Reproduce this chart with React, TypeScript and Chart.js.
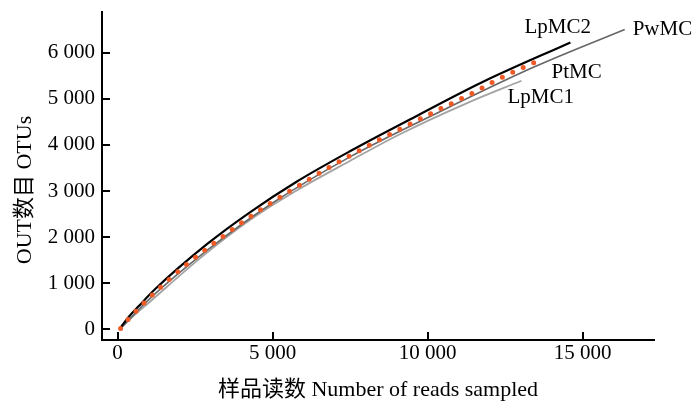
import React, { useEffect, useRef } from "react";
import { Chart, registerables } from "chart.js";

Chart.register(...registerables);

// ---- data ----
const lpmc2X = [80, 400, 670, 1208, 2894, 4270, 5775, 7493, 9600, 11789, 14605];
const lpmc2Y = [26, 300, 494, 870, 1852, 2538, 3201, 3860, 4610, 5367, 6220];

const pwmcX = [100, 1000, 3000, 5000, 7500, 10177, 13445, 16355];
const pwmcY = [20, 640, 1770, 2740, 3740, 4646, 5692, 6502];

const ptmcX = [100, 380, 650, 973, 1541, 2229, 2884, 3474, 4034, 4634, 5550, 6568, 7557, 8598, 9500, 10177, 10886, 11531, 12079, 12639, 13445];
const ptmcY = [20, 243, 429, 654, 1007, 1412, 1750, 2053, 2328, 2603, 2993, 3411, 3786, 4163, 4473, 4704, 4934, 5150, 5354, 5540, 5787];

const lpmc1X = [100, 400, 1047, 2659, 4270, 5775, 7493, 9104, 11253, 13026];
const lpmc1Y = [20, 220, 600, 1540, 2370, 3010, 3650, 4230, 4900, 5389];

const seriesNames = ["LpMC2", "PwMC", "PtMC", "LpMC1"];
const xTickValues = [0, 5000, 10000, 15000];
const yTickValues = [0, 1000, 2000, 3000, 4000, 5000, 6000];
const xTitle = "样品读数 Number of reads sampled";
const yTitle = "OUT数目 OTUs";

const FONT = "'Liberation Serif', 'Noto Sans CJK SC', serif";

const toPoints = (xs: number[], ys: number[]) => xs.map((x, i) => ({ x, y: ys[i] }));
const fmt = (v: number) => {
  const s = String(Math.round(v));
  return s.replace(/\B(?=(\d{3})+(?!\d))/g, " ");
};

// label placement relative to each line's end point (pixels)
const labelOffsets: Record<string, [number, number]> = {
  LpMC2: [-46, -9],
  PwMC: [8, 6],
  PtMC: [17, 16],
  LpMC1: [-14, 22],
};

const innerTicks = {
  id: "innerTicks",
  afterDraw(chart: any) {
    const { ctx, chartArea, scales } = chart;
    ctx.save();
    ctx.strokeStyle = "#000";
    ctx.lineWidth = 2;
    xTickValues.forEach((v) => {
      const px = Math.round(scales.x.getPixelForValue(v));
      ctx.beginPath();
      ctx.moveTo(px, chartArea.bottom);
      ctx.lineTo(px, chartArea.bottom - 8);
      ctx.stroke();
    });
    yTickValues.forEach((v) => {
      const py = Math.round(scales.y.getPixelForValue(v));
      ctx.beginPath();
      ctx.moveTo(chartArea.left, py);
      ctx.lineTo(chartArea.left + 8, py);
      ctx.stroke();
    });
    ctx.restore();
  },
};

const lineLabels = {
  id: "lineLabels",
  afterDraw(chart: any) {
    const { ctx } = chart;
    ctx.save();
    ctx.font = `21px ${FONT}`;
    ctx.fillStyle = "#000";
    ctx.textAlign = "left";
    ctx.textBaseline = "alphabetic";
    chart.data.datasets.forEach((ds: any, i: number) => {
      const meta = chart.getDatasetMeta(i);
      const last = meta.data[meta.data.length - 1];
      const off = labelOffsets[ds.label];
      if (!last || !off) return;
      ctx.fillText(ds.label, last.x + off[0], last.y + off[1]);
    });
    // y-axis title
    const ca = chart.chartArea;
    ctx.translate(25, (ca.top + ca.bottom) / 2 + 14);
    ctx.rotate(-Math.PI / 2);
    ctx.textAlign = "center";
    ctx.textBaseline = "middle";
    ctx.font = `22px ${FONT}`;
    ctx.fillText(yTitle, 0, 0);
    ctx.restore();
  },
};

export default function App() {
  const ref = useRef<HTMLCanvasElement | null>(null);
  useEffect(() => {
    if (!ref.current) return;
    const chart = new Chart(ref.current, {
      type: "line",
      data: {
        datasets: [
          {
            label: seriesNames[0],
            data: toPoints(lpmc2X, lpmc2Y),
            borderColor: "#000000",
            borderWidth: 2.2,
            pointRadius: 0,
            cubicInterpolationMode: "monotone",
            order: 1,
          },
          {
            label: seriesNames[1],
            data: toPoints(pwmcX, pwmcY),
            borderColor: "#666666",
            borderWidth: 1.6,
            pointRadius: 0,
            cubicInterpolationMode: "monotone",
            order: 2,
          },
          {
            label: seriesNames[2],
            data: toPoints(ptmcX, ptmcY),
            borderColor: "#EF5A26",
            borderWidth: 5,
            borderDash: [0, 11.5],
            borderCapStyle: "round",
            pointRadius: 0,
            cubicInterpolationMode: "monotone",
            order: 0,
          },
          {
            label: seriesNames[3],
            data: toPoints(lpmc1X, lpmc1Y),
            borderColor: "#a3a3a3",
            borderWidth: 1.8,
            pointRadius: 0,
            cubicInterpolationMode: "monotone",
            order: 3,
          },
        ] as any,
      },
      options: {
        animation: false,
        responsive: false,
        devicePixelRatio: 1,
        layout: { padding: { left: 0, top: 12, right: 46, bottom: 0 } },
        plugins: { legend: { display: false }, tooltip: { enabled: false } },
        scales: {
          x: {
            type: "linear",
            min: -500,
            max: 17300,
            grid: { display: false, drawTicks: false },
            border: { display: true, color: "#000", width: 2 },
            afterFit: (s: any) => {
              s.height = 67;
              s.paddingLeft = 0;
              s.paddingRight = 0;
            },
            afterBuildTicks: (s: any) => {
              s.ticks = xTickValues.map((v) => ({ value: v }));
            },
            ticks: {
              color: "#000",
              font: { family: FONT, size: 21 },
              padding: 1,
              maxRotation: 0,
              callback: (v: any) => fmt(Number(v)),
            },
            title: {
              display: true,
              text: xTitle,
              color: "#000",
              font: { family: FONT, size: 22 },
              padding: { top: 4, bottom: 4 },
            },
          },
          y: {
            type: "linear",
            min: -230,
            max: 6880,
            grid: { display: false, drawTicks: false },
            border: { display: true, color: "#000", width: 2 },
            afterFit: (s: any) => {
              s.width = 102;
              s.paddingTop = 0;
              s.paddingBottom = 0;
            },
            afterBuildTicks: (s: any) => {
              s.ticks = yTickValues.map((v) => ({ value: v }));
            },
            ticks: {
              color: "#000",
              font: { family: FONT, size: 21 },
              padding: 7,
              callback: (v: any) => fmt(Number(v)),
            },
            title: { display: false },
          },
        },
      },
      plugins: [innerTicks, lineLabels],
    });
    return () => chart.destroy();
  }, []);
  return (
    <div style={{ position: "fixed", left: 0, top: 0, width: 700, height: 407, background: "#fff" }}>
      <canvas ref={ref} width={700} height={407} />
    </div>
  );
}
